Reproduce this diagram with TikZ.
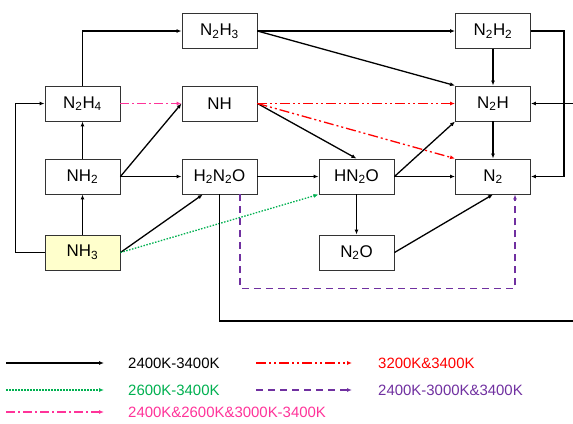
\documentclass[tikz,border=0pt]{standalone}
\usepackage{fontspec}
\setmainfont{Liberation Sans}
\usetikzlibrary{arrows.meta,calc}
\definecolor{rxred}{RGB}{255,0,0}
\definecolor{rxgreen}{RGB}{0,176,80}
\definecolor{rxpink}{RGB}{255,51,153}
\definecolor{rxpurple}{RGB}{112,48,160}
\definecolor{rxyellow}{RGB}{255,255,204}
\tikzset{
  species/.style={draw=black!80, line width=0.9bp, minimum width=75bp, minimum height=35bp, inner sep=0pt, font=\fontsize{17}{20}\selectfont},
  tipped/.style={-{Latex[length=5bp,width=4bp]}, line width=1.3bp, line join=miter},
  blk/.style={tipped, draw=black},
  grn/.style={tipped, draw=rxgreen, dash pattern=on 1.5bp off 1.5bp},
  pinkl/.style={tipped, draw=rxpink, dash pattern=on 9bp off 3bp on 2bp off 3bp},
  redl/.style={tipped, draw=rxred, dash pattern=on 10bp off 3bp on 2bp off 3bp on 2bp off 3bp},
  purp/.style={tipped, draw=rxpurple, dash pattern=on 7bp off 5bp},
  legtext/.style={anchor=west, inner sep=0pt, font=\fontsize{15}{18}\selectfont}
}
\newcommand{\sbs}[1]{\textsubscript{#1}}
\begin{document}
\begin{tikzpicture}[x=1bp,y=-1bp]
\useasboundingbox (0,0) rectangle (573,423);
% nodes
\node[species] (n2h3) at (219.5,31) {N\sbs{2}H\sbs{3}};
\node[species] (n2h4) at (82.5,103.5) {N\sbs{2}H\sbs{4}};
\node[species] (nh) at (219.5,103.5) {NH};
\node[species] (nh2) at (82.5,176.5) {NH\sbs{2}};
\node[species] (h2n2o) at (219.5,176.5) {H\sbs{2}N\sbs{2}O};
\node[species, fill=rxyellow] (nh3) at (82.5,252.5) {NH\sbs{3}};
\node[species] (n2h2) at (493,31) {N\sbs{2}H\sbs{2}};
\node[species] (n2h) at (493,103.5) {N\sbs{2}H};
\node[species] (hn2o) at (356.5,176.5) {HN\sbs{2}O};
\node[species] (n2) at (493,176.5) {N\sbs{2}};
\node[species] (n2o) at (356.5,252.5) {N\sbs{2}O};
% connectors
\draw[blk] (nh3.west) -- ++(-29,0) |- (n2h4.west);
\draw[blk] (nh3) -- (nh2);
\draw[blk] (nh2) -- (n2h4);
\draw[blk] (n2h4.north) |- (n2h3.west);
\draw[pinkl] (n2h4) -- (nh);
\draw[blk] (nh2.east) -- (nh.west);
\draw[blk] (nh2) -- (h2n2o);
\draw[blk] (nh3.east) -- ($(h2n2o.south west)!0.28!(h2n2o.south east)$);
\draw[grn] (nh3.east) -- (hn2o.south west);
\draw[blk] (h2n2o) -- (hn2o);
\coordinate (rb) at (577,321);
\draw[blk] (h2n2o.south) |- (rb) |- (n2h.east);
\draw[purp] ($(h2n2o.south west)!0.77!(h2n2o.south east)$) -- ++(0,94) -| ($(n2.south west)!0.79!(n2.south east)$);
\draw[blk] (n2h3.east) -- (n2h2.west);
\draw[blk] (n2h3.east) -- (n2h.north west);
\draw[blk] (nh.east) -- (hn2o.north);
\draw[redl] (nh.east) -- (n2h.west);
\draw[redl] (nh.east) -- (n2.north west);
\draw[blk] (n2h2) -- (n2h);
\draw[blk] (n2h) -- (n2);
\draw[blk] (n2h2.east) -- ++(33,0) |- (n2.east);
\draw[blk] (hn2o.east) -- (n2h.south west);
\draw[blk] (hn2o) -- (n2);
\draw[blk] (hn2o) -- (n2o);
\draw[blk] (n2o.east) -- (n2.south);
% legend
\coordinate (a1) at (6,363); \coordinate (b1) at (104,363);
\coordinate (a2) at (6,390); \coordinate (b2) at (104,390);
\coordinate (a3) at (6,412); \coordinate (b3) at (104,412);
\coordinate (c1) at (256,363); \coordinate (d1) at (352,363);
\coordinate (c2) at (256,390); \coordinate (d2) at (352,390);
\draw[blk] (a1) -- (b1);
\draw[grn] (a2) -- (b2);
\draw[pinkl] (a3) -- (b3);
\draw[redl] (c1) -- (d1);
\draw[purp] (c2) -- (d2);
\node[legtext] (t1) at (128,363) {2400K-3400K};
\node[legtext, text=rxgreen] (t2) at (128,390) {2600K-3400K};
\node[legtext, text=rxpink] (t3) at (128,412) {2400K\&2600K\&3000K-3400K};
\node[legtext, text=rxred] (t4) at (378,363) {3200K\&3400K};
\node[legtext, text=rxpurple] (t5) at (378,390) {2400K-3000K\&3400K};
\end{tikzpicture}
\end{document}
